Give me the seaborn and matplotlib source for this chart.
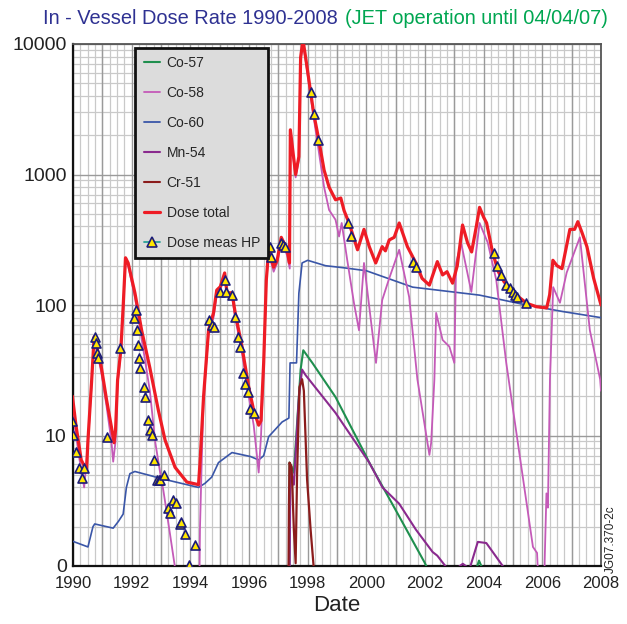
import numpy as np
import pandas as pd
import matplotlib
matplotlib.use("Agg")
import matplotlib.pyplot as plt
from matplotlib.lines import Line2D
from matplotlib.ticker import FixedLocator, MultipleLocator, LogLocator, NullFormatter
import seaborn as sns

# ---------------- data (decimal year, dose rate) ----------------
total_year = [1989.98, 1990.1, 1990.28, 1990.46, 1990.51, 1990.63, 1990.72, 1990.76, 1990.97, 1991.14,
              1991.31, 1991.4, 1991.45, 1991.52, 1991.63, 1991.71, 1991.79, 1991.88, 1992.11, 1992.34,
              1992.62, 1992.91, 1993.14, 1993.48, 1993.88, 1994.28, 1994.33, 1994.45, 1994.62, 1994.79,
              1994.9, 1995.02, 1995.17, 1995.25, 1995.42, 1995.53, 1995.76, 1995.99, 1996.16, 1996.33,
              1996.41, 1996.5, 1996.59, 1996.67, 1996.84, 1996.96, 1997.1, 1997.3, 1997.38, 1997.41,
              1997.59, 1997.7, 1997.76, 1997.84, 1997.93, 1998.1, 1998.21, 1998.38, 1998.56, 1998.73,
              1998.95, 1999.13, 1999.24, 1999.41, 1999.7, 1999.92, 2000.1, 2000.32, 2000.54, 2000.65,
              2000.78, 2000.95, 2001.12, 2001.4, 2001.69, 2001.9, 2002.15, 2002.42, 2002.6, 2002.75,
              2002.94, 2003.1, 2003.28, 2003.45, 2003.59, 2003.75, 2003.86, 2004.0, 2004.1, 2004.3,
              2004.5, 2004.7, 2005.0, 2005.2, 2005.47, 2005.8, 2006.15, 2006.25, 2006.36, 2006.5,
              2006.67, 2006.94, 2007.1, 2007.21, 2007.35, 2007.52, 2007.75, 2008.0]
total_val = [20, 12, 6.5, 5.4, 9.2, 25, 57, 54, 33, 19,
             11.6, 8.8, 11, 26.6, 45, 97, 230, 210, 124, 64,
             33, 15.6, 9.2, 5.7, 4.4, 4.2, 6.2, 19.7, 64, 87,
             130, 138, 176, 124, 124, 87, 48, 23.5, 15.6, 12,
             13, 36, 155, 265, 195, 220, 330, 265, 210, 2200,
             1000, 1370, 7900, 10800, 7900, 4300, 2900, 1840, 1080, 800,
             640, 660, 530, 425, 265, 380, 280, 210, 280, 260,
             315, 330, 425, 280, 210, 160, 142, 215, 170, 180,
             147, 200, 410, 300, 255, 400, 560, 470, 425, 255,
             180, 150, 128, 115, 103, 97, 95, 120, 220, 200,
             190, 380, 380, 435, 360, 280, 160, 100]

co58_year = [1989.98, 1990.2, 1990.38, 1990.5, 1990.63, 1990.72, 1990.76, 1990.97, 1991.14, 1991.31,
             1991.37, 1991.45, 1991.52, 1991.63, 1991.71, 1991.79, 1991.88, 1992.11, 1992.34, 1992.62,
             1992.8, 1992.97, 1993.08, 1993.3, 1993.5, 1993.6, 1994.3, 1994.33, 1994.4, 1994.45,
             1994.62, 1994.79, 1994.9, 1995.02, 1995.17, 1995.25, 1995.42, 1995.53, 1995.76, 1995.99,
             1996.16, 1996.33, 1996.41, 1996.5, 1996.59, 1996.67, 1996.84, 1996.96, 1997.1, 1997.3,
             1997.39, 1997.41, 1997.59, 1997.7, 1997.76, 1997.84, 1997.93, 1998.1, 1998.21, 1998.38,
             1998.56, 1998.73, 1998.95, 1999.07, 1999.16, 1999.35, 1999.58, 1999.75, 1999.92, 2000.33,
             2000.54, 2000.78, 2001.12, 2001.46, 2001.74, 2002.15, 2002.21, 2002.32, 2002.38, 2002.6,
             2002.83, 2003.0, 2003.06, 2003.23, 2003.58, 2003.86, 2004.14, 2004.43, 2004.77, 2005.68,
             2005.82, 2005.9, 2006.05, 2006.08, 2006.14, 2006.19, 2006.26, 2006.37, 2006.6, 2006.83,
             2007.28, 2007.62, 2007.97, 2008.0]
co58_val = [16, 7, 4, 8, 24, 55, 52, 30, 17, 9,
            6.3, 9, 25, 43, 95, 220, 200, 115, 55, 22,
            9, 5.2, 3.8, 1.8, 0.9, 0.5, 0.5, 2, 8, 19,
            60, 80, 120, 130, 165, 118, 118, 80, 43, 20,
            12, 5.2, 10, 33, 150, 250, 180, 210, 310, 240,
            190, 2100, 950, 1300, 7500, 10200, 7500, 4000, 2700, 1500,
            800, 535, 450, 335, 425, 220, 103, 64, 210, 36,
            109, 160, 265, 115, 27, 7.1, 8.8, 27, 87, 54,
            48, 36, 210, 300, 126, 425, 300, 155, 36, 1.4,
            1.26, 0.5, 0.5, 1.1, 3.6, 2.8, 27, 137, 104, 177,
            330, 64, 27, 22]

co60_year = [1989.98, 1990.51, 1990.68, 1990.74, 1991.37, 1991.55, 1991.71, 1991.82, 1991.94, 1992.11,
             1993.14, 1994.28, 1994.5, 1994.73, 1994.96, 1995.42, 1996.05, 1996.33, 1996.5, 1996.67,
             1997.13, 1997.36, 1997.4, 1997.62, 1997.7, 1997.81, 1998.0, 1998.61, 1999.3, 2000.0,
             2001.58, 2003.86, 2005.46, 2006.71, 2008.0]
co60_val = [1.55, 1.4, 2.0, 2.1, 1.95, 2.2, 2.5, 4.0, 5.1, 5.3,
            4.6, 4.0, 4.3, 4.8, 6.2, 7.4, 6.9, 6.5, 7.0, 9.8,
            12.7, 13.6, 36, 36, 123, 210, 220, 200, 192, 183,
            137, 119, 100, 89, 80]

mn54_year = [1997.38, 1997.41, 1997.53, 1997.7, 1997.81, 1997.93, 1998.95, 2000.1, 2000.55, 2001.12,
             2001.69, 2002.26, 2002.42, 2002.77, 2002.85, 2003.06, 2003.29, 2003.52, 2003.8, 2004.09,
             2004.31, 2004.72, 2004.8]
mn54_val = [0.5, 5.7, 4.2, 19.7, 32, 29, 14.9, 6.2, 4.0, 3.0,
            1.9, 1.28, 1.2, 0.95, 0.5, 0.95, 1.04, 0.95, 1.53, 1.5,
            1.28, 0.95, 0.5]

co57_year = [1997.37, 1997.38, 1997.53, 1997.64, 1997.76, 1997.85, 1998.16, 1998.95, 2000.0, 2000.1,
             2001.12, 2001.98, 2002.09, 2002.15, 2003.7, 2003.75, 2003.84, 2003.92, 2004.03, 2004.1]
co57_val = [0.5, 6.2, 5.2, 12.5, 32, 45, 36, 19.7, 6.9, 6.2,
            2.4, 1.07, 0.95, 0.5, 0.5, 0.95, 1.1, 1.0, 0.95, 0.5]

cr51_year = [1997.34, 1997.36, 1997.38, 1997.45, 1997.53, 1997.59, 1997.64, 1997.72, 1997.81, 1997.87,
             1997.98, 1998.1, 1998.21, 1998.25]
cr51_val = [0.5, 2.7, 6.2, 5.8, 1.9, 1.05, 5.2, 23.5, 27, 22,
            4.6, 1.9, 0.95, 0.5]

meas_year = [1989.95, 1989.99, 1990.11, 1990.2, 1990.32, 1990.38, 1990.76, 1990.8, 1990.82, 1990.86,
             1991.17, 1991.6, 1992.09, 1992.14, 1992.17, 1992.2, 1992.25, 1992.3, 1992.43, 1992.47,
             1992.57, 1992.62, 1992.7, 1992.77, 1992.85, 1992.93, 1992.97, 1993.11, 1993.23, 1993.31,
             1993.42, 1993.51, 1993.66, 1993.68, 1993.82, 1993.97, 1994.16, 1994.65, 1994.73, 1994.79,
             1995.02, 1995.17, 1995.21, 1995.42, 1995.51, 1995.62, 1995.7, 1995.8, 1995.85, 1995.96,
             1996.05, 1996.16, 1996.73, 1996.76, 1997.1, 1997.16, 1997.24, 1998.1, 1998.21, 1998.35,
             1999.39, 1999.47, 2001.58, 2001.69, 2004.34, 2004.45, 2004.6, 2004.77, 2004.89, 2005.0,
             2005.06, 2005.14, 2005.46]
meas_val = [13, 10.1, 7.5, 5.6, 4.7, 5.6, 57, 51, 43, 39,
            9.8, 47, 80, 92, 64, 49, 39, 33, 23.6, 19.7,
            13.1, 11, 10.1, 6.5, 4.6, 4.6, 4.6, 5.0, 2.77, 2.55,
            3.2, 3.04, 2.1, 2.19, 1.76, 1.02, 1.45, 77, 70, 68,
            125, 155, 125, 119, 81, 57, 48, 30, 25, 21.5,
            16, 15, 277, 234, 300, 290, 280, 4300, 2900, 1830,
            425, 335, 215, 195, 250, 200, 170, 142, 135, 125,
            119, 115, 103]

x_ticks = [1990, 1992, 1994, 1996, 1998, 2000, 2002, 2004, 2006, 2008]
y_ticks = [1, 10, 100, 1000, 10000]
y_tick_labels = ["0", "10", "100", "1000", "10000"]

# ---------------- style ----------------
sns.set_theme(style="white")
plt.rcParams["font.family"] = ["Liberation Sans", "DejaVu Sans"]

fig = plt.figure(figsize=(6.27, 6.24), dpi=100)
ax = fig.add_axes([73 / 627, 1 - 566 / 624, 528 / 627, 522 / 624])
ax.set_facecolor("white")

C_CO57 = "#1f8f4e"
C_CO58 = "#c45ab8"
C_CO60 = "#3a56a8"
C_MN54 = "#8a2a8e"
C_CR51 = "#8b1c1c"
C_TOT = "#ee1c25"

def line(xs, ys, color, lw, z):
    df = pd.DataFrame({"year": xs, "val": ys})
    sns.lineplot(data=df, x="year", y="val", ax=ax, color=color, lw=lw,
                 estimator=None, sort=False, zorder=z, legend=False)

line(co60_year, co60_val, C_CO60, 1.2, 3)
line(co58_year, co58_val, C_CO58, 1.3, 4)
line(co57_year, co57_val, C_CO57, 1.5, 5)
line(mn54_year, mn54_val, C_MN54, 1.5, 5)
line(cr51_year, cr51_val, C_CR51, 1.6, 6)
line(total_year, total_val, C_TOT, 2.3, 7)

meas_df = pd.DataFrame({"year": meas_year, "val": meas_val})
sns.scatterplot(data=meas_df, x="year", y="val", ax=ax, marker="^", s=42,
                color="#ffe600", edgecolor="#1c1c78", linewidth=1.2, zorder=9, legend=False)

ax.set_yscale("log")
ax.set_xlim(1990, 2008)
ax.set_ylim(1, 10000)

# grid
ax.xaxis.set_major_locator(FixedLocator(x_ticks))
ax.xaxis.set_minor_locator(MultipleLocator(0.25))
ax.yaxis.set_major_locator(FixedLocator(y_ticks))
ax.yaxis.set_minor_locator(LogLocator(base=10, subs=np.arange(2, 10)))
ax.yaxis.set_minor_formatter(NullFormatter())
ax.set_yticklabels(y_tick_labels)
for yr in range(1990, 2009):
    ax.axvline(yr, color="#9a9a9a", lw=1.0, zorder=1)
ax.grid(which="minor", axis="x", color="#c9c9c9", lw=0.9, zorder=0)
ax.grid(which="minor", axis="y", color="#c9c9c9", lw=0.9, zorder=0)
ax.grid(which="major", axis="y", color="#9a9a9a", lw=1.0, zorder=1)
ax.set_axisbelow(True)

ax.tick_params(axis="x", which="major", direction="in", length=6, width=1.2, color="#444444",
               labelsize=12, pad=7, labelcolor="#222222")
ax.tick_params(axis="y", which="major", direction="inout", length=8, width=1.2, color="#444444",
               labelsize=14, pad=0.5, labelcolor="#222222")
ax.tick_params(which="minor", length=0)

for side in ["left", "bottom"]:
    ax.spines[side].set_color("#111111")
    ax.spines[side].set_linewidth(1.6)
for side in ["top", "right"]:
    ax.spines[side].set_color("#555555")
    ax.spines[side].set_linewidth(1.3)

ax.set_xlabel("Date", fontsize=16, color="#222222", labelpad=3)
ax.set_ylabel("")

# legend
handles = [
    Line2D([], [], color=C_CO57, lw=1.5),
    Line2D([], [], color=C_CO58, lw=1.3),
    Line2D([], [], color=C_CO60, lw=1.3),
    Line2D([], [], color=C_MN54, lw=1.5),
    Line2D([], [], color=C_CR51, lw=1.5),
    Line2D([], [], color=C_TOT, lw=2.3),
    Line2D([], [], color="#2aa198", lw=1.3, marker="^", markersize=6.5,
           markerfacecolor="#ffe600", markeredgecolor="#1c1c78", markeredgewidth=1.2),
]
labels = ["Co-57", "Co-58", "Co-60", "Mn-54", "Cr-51", "Dose total", "Dose meas HP"]
leg = ax.legend(handles, labels, loc="upper left", bbox_to_anchor=(0.118, 0.993),
                fontsize=10, frameon=True, fancybox=False, facecolor="#dcdcdc",
                edgecolor="#111111", framealpha=1, labelspacing=1.15, handlelength=1.2,
                handletextpad=0.45, borderpad=0.6, borderaxespad=0)
leg.get_frame().set_linewidth(2)
leg.set_zorder(20)

# title
fig.text(338 / 627, 1 - 18 / 624, "In - Vessel Dose Rate 1990-2008", color="#2e3192",
         fontsize=14.4, ha="right", va="center")
fig.text(345 / 627, 1 - 18 / 624, "(JET operation until 04/04/07)", color="#00a651",
         fontsize=14.4, ha="left", va="center")

fig.text(611 / 627, 1 - 539 / 624, "JG07.370-2c", rotation=90, fontsize=8.5,
         color="#222222", ha="center", va="center")

fig.savefig("out.png", dpi=100)
